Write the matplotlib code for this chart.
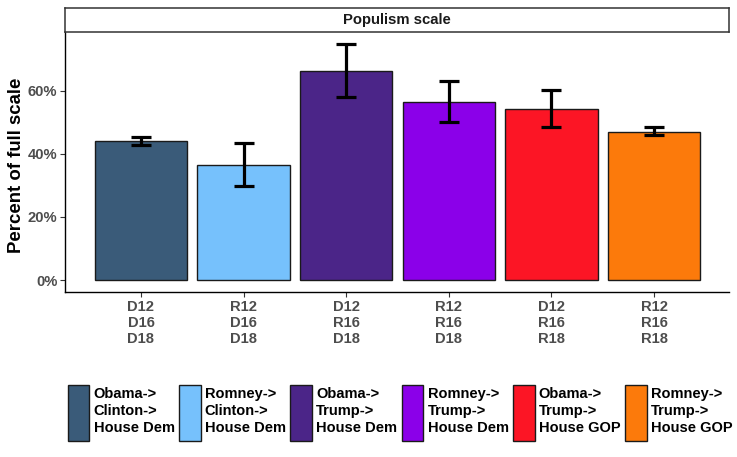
import matplotlib
matplotlib.use('Agg')
import matplotlib.pyplot as plt
from matplotlib.patches import Patch
from matplotlib.ticker import FuncFormatter

plt.rcParams['font.family'] = ['Liberation Sans', 'DejaVu Sans']

# data
tick_labels = ['D12\nD16\nD18', 'R12\nD16\nD18', 'D12\nR16\nD18',
               'R12\nR16\nD18', 'D12\nR16\nR18', 'R12\nR16\nR18']
groups = ['Obama->\nClinton->\nHouse Dem', 'Romney->\nClinton->\nHouse Dem',
          'Obama->\nTrump->\nHouse Dem', 'Romney->\nTrump->\nHouse Dem',
          'Obama->\nTrump->\nHouse GOP', 'Romney->\nTrump->\nHouse GOP']
means = [44.0, 36.6, 66.4, 56.5, 54.4, 47.1]
lower = [42.8, 29.8, 58.1, 50.3, 48.5, 45.9]
upper = [45.5, 43.4, 74.9, 63.0, 60.3, 48.5]
colors = ['#3A5B79', '#76C1FC', '#4B2588', '#8B00E9', '#FC1525', '#FC7A0B']

GREY = '#4D4D4D'

fig = plt.figure(figsize=(7.37, 4.57), dpi=100)
ax = fig.add_axes([65 / 737, 1 - 292 / 457, 664 / 737, 260 / 457])

x = list(range(len(means)))
ax.bar(x, means, width=0.9, color=colors, edgecolor='#1A1A1A', linewidth=1.0, zorder=2)
yerr = [[m - l for m, l in zip(means, lower)], [u - m for m, u in zip(means, upper)]]
ax.errorbar(x, means, yerr=yerr, fmt='none', ecolor='black', elinewidth=2.3,
            capsize=7.2, capthick=2.3, zorder=3)

ax.set_xlim(-0.74, 5.73)
ax.set_ylim(-3.8, 78.7)
ax.set_yticks([0, 20, 40, 60])
ax.yaxis.set_major_formatter(FuncFormatter(lambda v, p: '{:.0f}%'.format(v)))
ax.set_xticks(x)
ax.set_xticklabels(tick_labels, linespacing=1.21)
for lab in ax.get_xticklabels() + ax.get_yticklabels():
    lab.set_fontweight('bold')
    lab.set_color(GREY)
    lab.set_fontsize(10.6)
ax.tick_params(axis='both', length=3.5, width=0.8, color='#333333', pad=2)
for s in ['top', 'right']:
    ax.spines[s].set_visible(False)
for s in ['left', 'bottom']:
    ax.spines[s].set_linewidth(1.0)
    ax.spines[s].set_color('black')
ax.set_ylabel('Percent of full scale', fontsize=13.4, fontweight='bold')
ax.yaxis.set_label_coords(-0.0603, 0.488)

# facet strip
strip = fig.add_axes([65 / 737, 1 - 32 / 457, 664 / 737, 24 / 457])
strip.set_xticks([])
strip.set_yticks([])
for s in strip.spines.values():
    s.set_color('#333333')
    s.set_linewidth(1.1)
strip.text(0.5, 0.5, 'Populism scale', ha='center', va='center',
           fontsize=10.7, fontweight='bold', color='#1A1A1A', transform=strip.transAxes)

handles = [Patch(facecolor=c, edgecolor='#1A1A1A', linewidth=1.0) for c in colors]
leg = fig.legend(handles, groups, loc='center', bbox_to_anchor=(400 / 737, 1 - 413 / 457),
                 ncol=6, frameon=False, handlelength=1.5, handleheight=5.5,
                 handletextpad=0.28, columnspacing=0.3, borderpad=0,
                 prop={'weight': 'bold', 'size': 10.5})
for t in leg.get_texts():
    t.set_linespacing(1.25)

fig.savefig('out.png', dpi=100)
